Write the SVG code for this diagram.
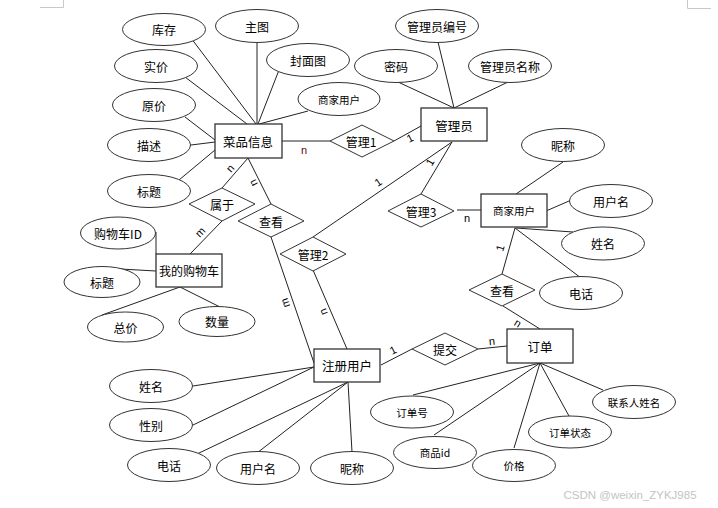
<svg xmlns="http://www.w3.org/2000/svg" width="718" height="508" viewBox="0 0 718 508">
<style>
.bg{fill:#fff}
.ent rect{fill:#fff;stroke:#333;stroke-width:1.3}
.att ellipse{fill:#fff;stroke:#333;stroke-width:1}
.rel polygon{fill:#fff;stroke:#333;stroke-width:1}
text{font-family:"Noto Sans CJK SC","Liberation Sans",sans-serif;fill:#000;text-anchor:middle;dominant-baseline:central}
.t13{font-size:12.5px}
.t12{font-size:12px}
.t10{font-size:10.5px}
#connectors line{stroke:#222;stroke-width:1}
.card{font-family:"Liberation Sans",sans-serif;font-size:11px}
.mark{stroke:#c8c8c8;stroke-width:1;fill:none}
</style>
<rect class="bg" x="0" y="0" width="718" height="508"/>
<path class="mark" d="M40,7.5H63.5V0"/>
<path class="mark" d="M687.5,0V8.5H711"/>
<g id="connectors">
<line x1="191" y1="38" x2="256" y2="124"/>
<line x1="257" y1="42" x2="257" y2="124"/>
<line x1="279" y1="70" x2="258" y2="124"/>
<line x1="308" y1="111" x2="259" y2="124"/>
<line x1="185" y1="77" x2="247" y2="124"/>
<line x1="185" y1="117" x2="215" y2="140"/>
<line x1="191" y1="145" x2="215" y2="142"/>
<line x1="179" y1="180" x2="215" y2="150"/>
<line x1="282" y1="141" x2="330" y2="141"/>
<line x1="394" y1="141" x2="421" y2="126"/>
<line x1="452" y1="142" x2="421" y2="194"/>
<line x1="452" y1="142" x2="313" y2="237"/>
<line x1="457" y1="210" x2="481" y2="210"/>
<line x1="563" y1="162" x2="516" y2="194"/>
<line x1="569" y1="201" x2="546" y2="211"/>
<line x1="516" y1="228" x2="573" y2="232"/>
<line x1="515" y1="228" x2="581" y2="278"/>
<line x1="515" y1="228" x2="502" y2="274"/>
<line x1="503" y1="306" x2="540" y2="329"/>
<line x1="248" y1="158" x2="222" y2="188"/>
<line x1="248" y1="158" x2="271" y2="204"/>
<line x1="222" y1="221" x2="190" y2="254"/>
<line x1="271" y1="237" x2="314" y2="363"/>
<line x1="313" y1="270" x2="347" y2="349"/>
<line x1="381" y1="365" x2="412" y2="349"/>
<line x1="478" y1="349" x2="507" y2="346"/>
<line x1="156" y1="232" x2="156" y2="254"/>
<line x1="120" y1="269" x2="156" y2="271"/>
<line x1="102" y1="315" x2="180" y2="287"/>
<line x1="180" y1="287" x2="220" y2="307"/>
<line x1="193" y1="386" x2="314" y2="367"/>
<line x1="193" y1="425" x2="314" y2="367"/>
<line x1="197" y1="454" x2="348" y2="382"/>
<line x1="257" y1="453" x2="348" y2="382"/>
<line x1="348" y1="382" x2="352" y2="452"/>
<line x1="413" y1="395" x2="540" y2="363"/>
<line x1="434" y1="435" x2="540" y2="363"/>
<line x1="514" y1="448" x2="540" y2="363"/>
<line x1="569" y1="416" x2="540" y2="363"/>
<line x1="603" y1="390" x2="540" y2="363"/>
<line x1="438" y1="42" x2="454" y2="108"/>
<line x1="398" y1="82" x2="454" y2="108"/>
<line x1="508" y1="82" x2="454" y2="108"/>
<text class="card" x="304" y="150" style="fill:#5a0a0a">n</text>
<text class="card" transform="translate(410,138) rotate(-27)" x="0" y="0">1</text>
<text class="card" transform="translate(430,162) rotate(-59)" x="0" y="0">1</text>
<text class="card" transform="translate(378,182) rotate(-34)" x="0" y="0">1</text>
<text class="card" x="467" y="218">n</text>
<text class="card" transform="translate(500,248) rotate(-74)" x="0" y="0">1</text>
<text class="card" transform="translate(518,323) rotate(32)" x="0" y="0">n</text>
<text class="card" transform="translate(230,168) rotate(-49)" x="0" y="0">n</text>
<text class="card" transform="translate(253,183) rotate(-117)" x="0" y="0">n</text>
<text class="card" transform="translate(200,232) rotate(-46)" x="0" y="0">m</text>
<text class="card" transform="translate(285,303) rotate(-109)" x="0" y="0">m</text>
<text class="card" transform="translate(323,312) rotate(-113)" x="0" y="0">n</text>
<text class="card" transform="translate(393,350) rotate(-27)" x="0" y="0">1</text>
<text class="card" transform="translate(492,341) rotate(-6)" x="0" y="0">n</text>
</g>
<g id="caipin" class="ent"><rect x="215" y="124" width="67" height="34"/><text class="t13" x="248" y="141">菜品信息</text></g>
<g id="guanliyuan" class="ent"><rect x="421" y="108" width="66" height="33"/><text class="t13" x="454" y="125">管理员</text></g>
<g id="gouwuche" class="ent"><rect x="156" y="254" width="66" height="33"/><text class="t12" x="189" y="270.5">我的购物车</text></g>
<g id="shangjia" class="ent"><rect x="481" y="194" width="66" height="33"/><text class="t10" x="514" y="210.5">商家用户</text></g>
<g id="zhuce" class="ent"><rect x="314" y="349" width="66" height="33"/><text class="t13" x="347" y="365.5">注册用户</text></g>
<g id="dingdan" class="ent"><rect x="507" y="329" width="66" height="34"/><text class="t13" x="540" y="346">订单</text></g>
<g id="guanli1" class="rel"><polygon points="330,141 362,125 394,141 362,157"/><text class="t12" x="361" y="141">管理1</text></g>
<g id="guanli3" class="rel"><polygon points="388,211 421,194 454,211 421,227"/><text class="t12" x="421" y="211">管理3</text></g>
<g id="guanli2" class="rel"><polygon points="280,254 313,237 346,254 313,271"/><text class="t12" x="313" y="254">管理2</text></g>
<g id="chakan1" class="rel"><polygon points="238,221 271,204 304,221 271,237"/><text class="t12" x="271" y="221">查看</text></g>
<g id="shuyu" class="rel"><polygon points="189,204 222,188 255,204 222,221"/><text class="t12" x="222" y="204">属于</text></g>
<g id="chakan2" class="rel"><polygon points="469,290 502,274 535,290 502,306"/><text class="t12" x="502" y="290">查看</text></g>
<g id="tijiao" class="rel"><polygon points="412,349 445,333 478,349 445,365"/><text class="t12" x="445" y="349">提交</text></g>
<g id="a-kucun" class="att"><ellipse cx="164" cy="29.5" rx="41.5" ry="16"/><text class="t12" x="164" y="29.5">库存</text></g>
<g id="a-zhutu" class="att"><ellipse cx="257" cy="26" rx="41.5" ry="16.5"/><text class="t12" x="257" y="26">主图</text></g>
<g id="a-fengmian" class="att"><ellipse cx="308" cy="60" rx="41.5" ry="16.5"/><text class="t12" x="308" y="60">封面图</text></g>
<g id="a-shangjia" class="att"><ellipse cx="339" cy="99" rx="41" ry="16.5"/><text class="t10" x="339" y="99">商家用户</text></g>
<g id="a-shijia" class="att"><ellipse cx="156" cy="66" rx="41.5" ry="16.5"/><text class="t12" x="156" y="66">实价</text></g>
<g id="a-yuanjia" class="att"><ellipse cx="154" cy="105" rx="41.5" ry="16.5"/><text class="t12" x="154" y="105">原价</text></g>
<g id="a-miaoshu" class="att"><ellipse cx="149" cy="145" rx="41.5" ry="16.5"/><text class="t12" x="149" y="145">描述</text></g>
<g id="a-biaoti" class="att"><ellipse cx="149" cy="191" rx="41.5" ry="16.5"/><text class="t12" x="149" y="191">标题</text></g>
<g id="a-cartid" class="att"><ellipse cx="118" cy="233" rx="37.5" ry="16"/><text class="t12" x="118" y="233">购物车ID</text></g>
<g id="a-cartbiaoti" class="att"><ellipse cx="102" cy="282" rx="38" ry="15.5"/><text class="t12" x="102" y="282">标题</text></g>
<g id="a-zongjia" class="att"><ellipse cx="125.5" cy="327" rx="38" ry="15"/><text class="t12" x="125.5" y="327">总价</text></g>
<g id="a-shuliang" class="att"><ellipse cx="217" cy="321.5" rx="38" ry="15"/><text class="t12" x="217" y="321.5">数量</text></g>
<g id="a-glybh" class="att"><ellipse cx="437" cy="26" rx="41.5" ry="16.5"/><text class="t12" x="437" y="26">管理员编号</text></g>
<g id="a-mima" class="att"><ellipse cx="396" cy="66" rx="41.5" ry="16.5"/><text class="t12" x="396" y="66">密码</text></g>
<g id="a-glymc" class="att"><ellipse cx="510" cy="66" rx="41.5" ry="16.5"/><text class="t12" x="510" y="66">管理员名称</text></g>
<g id="a-sj-nicheng" class="att"><ellipse cx="563" cy="145" rx="41.5" ry="16.5"/><text class="t12" x="563" y="145">昵称</text></g>
<g id="a-sj-yonghuming" class="att"><ellipse cx="611" cy="201" rx="41.5" ry="16.5"/><text class="t12" x="611" y="201">用户名</text></g>
<g id="a-sj-xingming" class="att"><ellipse cx="603" cy="243.5" rx="41.5" ry="16.5"/><text class="t12" x="603" y="243.5">姓名</text></g>
<g id="a-sj-dianhua" class="att"><ellipse cx="581" cy="293" rx="41.5" ry="16.5"/><text class="t12" x="581" y="293">电话</text></g>
<g id="a-zc-xingming" class="att"><ellipse cx="151" cy="386" rx="41.5" ry="16.5"/><text class="t12" x="151" y="386">姓名</text></g>
<g id="a-zc-xingbie" class="att"><ellipse cx="151" cy="425" rx="41.5" ry="16.5"/><text class="t12" x="151" y="425">性别</text></g>
<g id="a-zc-dianhua" class="att"><ellipse cx="169" cy="465" rx="41.5" ry="16.5"/><text class="t12" x="169" y="465">电话</text></g>
<g id="a-zc-yonghuming" class="att"><ellipse cx="258" cy="468" rx="41.5" ry="16.5"/><text class="t12" x="258" y="468">用户名</text></g>
<g id="a-zc-nicheng" class="att"><ellipse cx="352" cy="468" rx="41.5" ry="16.5"/><text class="t12" x="352" y="468">昵称</text></g>
<g id="a-ddh" class="att"><ellipse cx="412" cy="412" rx="41.5" ry="16"/><text class="t10" x="412" y="412">订单号</text></g>
<g id="a-spid" class="att"><ellipse cx="435" cy="452.5" rx="41.5" ry="16"/><text class="t10" x="435" y="452.5">商品id</text></g>
<g id="a-jiage" class="att"><ellipse cx="514" cy="465.5" rx="41.5" ry="16"/><text class="t10" x="514" y="465.5">价格</text></g>
<g id="a-ddzt" class="att"><ellipse cx="570" cy="432" rx="41.5" ry="16"/><text class="t10" x="570" y="432">订单状态</text></g>
<g id="a-lxrxm" class="att"><ellipse cx="634" cy="402" rx="41.5" ry="16.5"/><text class="t10" x="634" y="402">联系人姓名</text></g>
<text x="630" y="495" style="font-family:'Liberation Sans',sans-serif;font-size:11.5px;fill:#c4c4c4">CSDN @weixin_ZYKJ985</text>
</svg>
